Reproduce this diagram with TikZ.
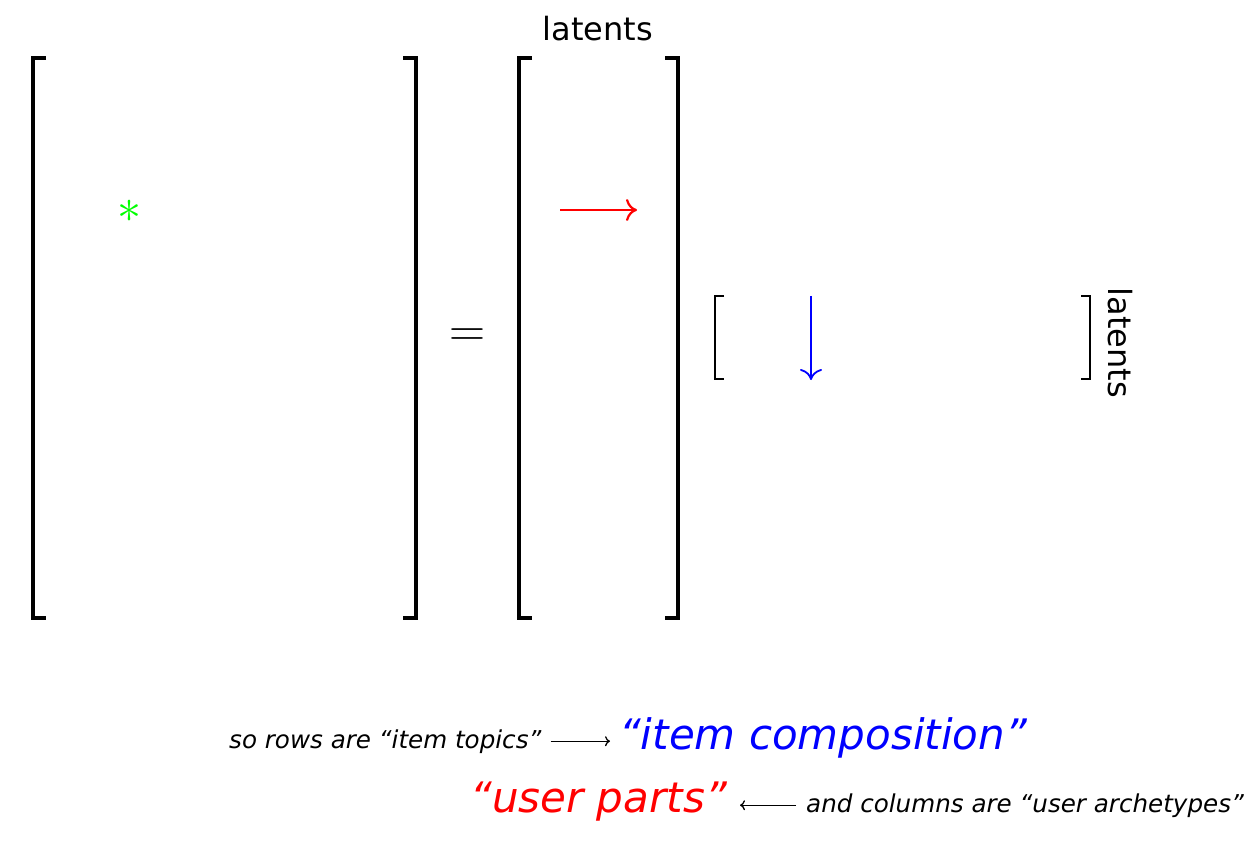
\documentclass[tikz,border=0pt]{standalone}
\usepackage{fix-cm}
\usepackage[no-math]{fontspec}
\setmainfont{DejaVu Sans}
\usetikzlibrary{arrows.meta}
\def\serif{13}
\tikzset{
    brak/.style = {line width=3.5pt, line join=miter},
    small brak/.style = {line width=2.5pt, line join=miter},
    label txt/.style = {inner sep=0pt, font=\fontsize{32}{38}\selectfont},
    note txt/.style = {inner sep=0pt, font=\fontsize{24.6}{28}\selectfont\itshape},
    big txt/.style = {inner sep=0pt, font=\fontsize{42}{50}\selectfont\itshape},
    marrow/.style = {-{Computer Modern Rightarrow[length=11pt, width=22pt]}},
    sarrow/.style = {-{Computer Modern Rightarrow[length=5pt, width=10pt]}}
}

\begin{document}
\begin{tikzpicture}[x=1pt, y=-1pt]
        \useasboundingbox (0,0) rectangle (1258,842);

        % matrix corners
        \coordinate (A1) at (33,58);
        \coordinate (A2) at (416,618);
        \coordinate (B1) at (519,58);
        \coordinate (B2) at (678,618);
        \coordinate (C1) at (715,296);
        \coordinate (C2) at (1090,379);

        % brackets of the big matrix
        \draw[brak] ([xshift=\serif]A1) -- (A1) -- (A1 |- A2) -- ([xshift=\serif]A1 |- A2);
        \draw[brak] ([xshift=-\serif]A2 |- A1) -- (A2 |- A1) -- (A2) -- ([xshift=-\serif]A2);

        % brackets of the tall matrix
        \draw[brak] ([xshift=\serif]B1) -- (B1) -- (B1 |- B2) -- ([xshift=\serif]B1 |- B2);
        \draw[brak] ([xshift=-\serif]B2 |- B1) -- (B2 |- B1) -- (B2) -- ([xshift=-\serif]B2);

        % brackets of the wide matrix
        \draw[small brak] ([xshift=9]C1) -- (C1) -- (C1 |- C2) -- ([xshift=9]C1 |- C2);
        \draw[small brak] ([xshift=-9]C2 |- C1) -- (C2 |- C1) -- (C2) -- ([xshift=-9]C2);

        % labels
        \node[label txt, anchor=base] (latTop) at (598,41) {latents};
        \node[label txt, rotate=-90] (latSide) at (1120,343) {latents};
        \node[inner sep=0pt, font=\fontsize{50}{50}\selectfont] (eq) at (467,338) {$=$};
        \node[inner sep=0pt, green, font=\fontsize{48}{48}\selectfont] (star) at (129,211) {$\ast$};

        % entries
        \coordinate (rowS) at (560,210);
        \coordinate (rowE) at (637,210);
        \coordinate (colS) at (811,296);
        \coordinate (colE) at (811,380);
        \draw[marrow, red, line width=2.2pt] (rowS) -- (rowE);
        \draw[marrow, blue, line width=1.8pt] (colS) -- (colE);

        % notes
        \node[note txt, anchor=base west] (rows) at (229,748) {so rows are “item topics”};
        \node[big txt, blue, anchor=base west] (comp) at (619,749) {“item composition”};
        \node[big txt, red, anchor=base east] (parts) at (727,812) {“user parts”};
        \node[note txt, anchor=base west] (cols) at (806,812) {and columns are “user archetypes”};

        \draw[sarrow, line width=1.3pt, shorten <=9pt, shorten >=9pt] (rows.east) -- (rows.east -| comp.west);
        \draw[sarrow, line width=1.3pt, shorten <=10pt, shorten >=13pt] (cols.west) -- (cols.west -| parts.east);
    \end{tikzpicture}
\end{document}
